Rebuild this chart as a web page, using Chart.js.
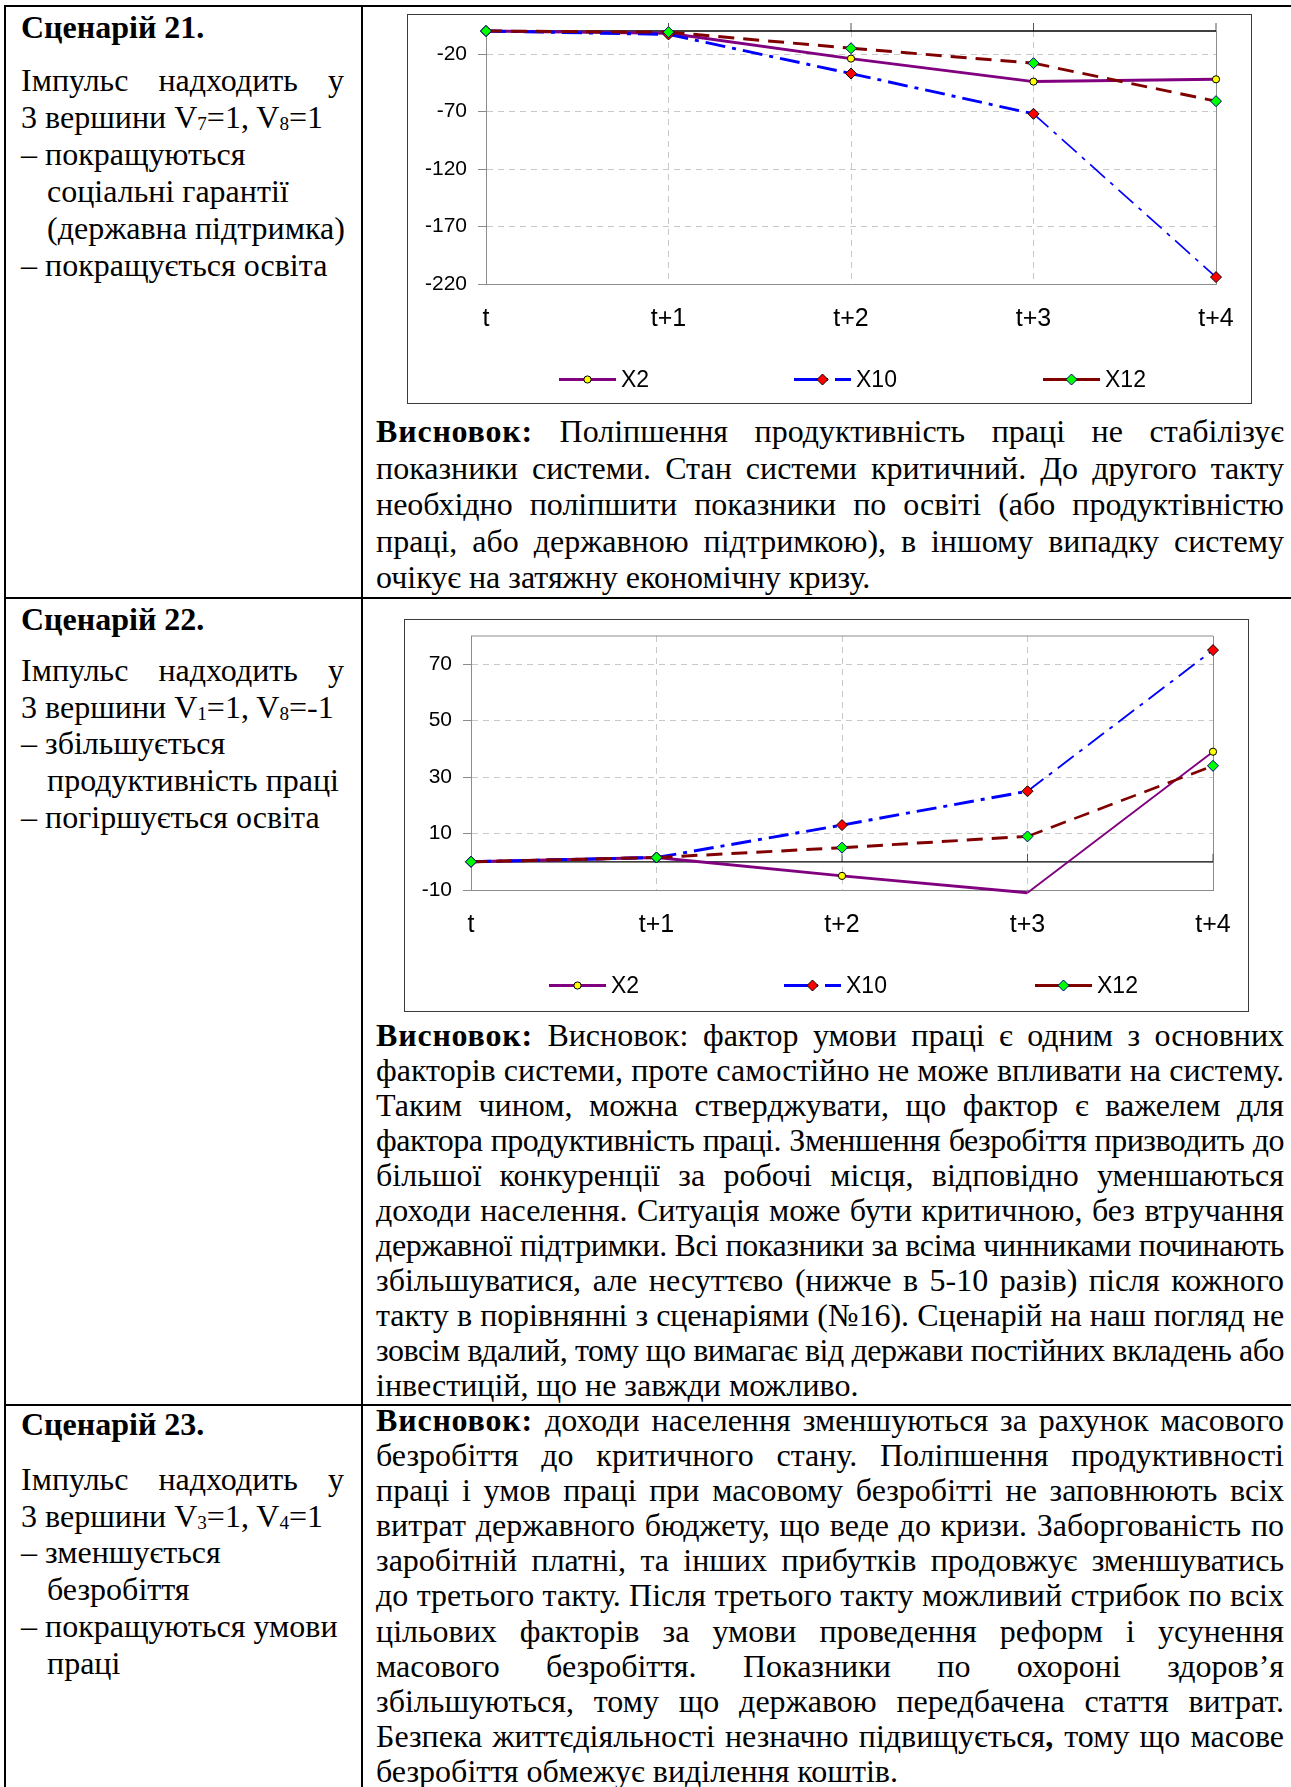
<!DOCTYPE html>
<html lang="uk">
<head>
<meta charset="utf-8">
<title>Сценарії 21–23</title>
<script src="https://cdn.jsdelivr.net/npm/chart.js@4.4.1/dist/chart.umd.min.js"></script>
<style>
  html, body { margin: 0; padding: 0; background: #fff; }
  body { position: relative; width: 1291px; height: 1787px; overflow: hidden;
         font-family: "Liberation Serif", "Times New Roman", serif; color: #000; }
  .rule { position: absolute; background: #000; }
  .txt { position: absolute; font-size: 32px; }
  .txt > div { white-space: nowrap; }
  .txt > div.j { white-space: normal; text-align: justify; text-align-last: justify; }
  .txt.note b { letter-spacing: 0.8px; }
  .ind { padding-left: 26px; }
  sub { font-size: 0.6em; vertical-align: -0.1em; line-height: 0; }
  .frame { position: absolute; box-sizing: border-box; border: 1px solid #3c3c3c; background: #fff; }
  .frame canvas { display: block; }
</style>
</head>
<body>

<!-- table rules -->
<div class="rule" style="left:4px;top:5px;width:1287px;height:2px"></div>
<div class="rule" style="left:4px;top:5px;width:2px;height:1782px"></div>
<div class="rule" style="left:361px;top:5px;width:2px;height:1782px"></div>
<div class="rule" style="left:4px;top:597px;width:1287px;height:2px"></div>
<div class="rule" style="left:4px;top:1404px;width:1287px;height:2px"></div>

<!-- сценарій 21 -->
<div class="txt" style="left:21px;top:9px;width:323px;line-height:37px"><div><b>Сценарій 21.</b></div></div>
<div class="txt" style="left:21px;top:62px;width:323px;line-height:37px">
  <div class="j">Імпульс надходить у</div>
  <div>3 вершини V<sub>7</sub>=1, V<sub>8</sub>=1</div>
  <div>– покращуються</div>
  <div class="ind">соціальні гарантії</div>
  <div class="ind">(державна підтримка)</div>
  <div>– покращується освіта</div>
</div>
<div class="frame" style="left:407px;top:14px;width:845px;height:390px"><canvas id="chart21" width="843" height="388"></canvas></div>
<div class="txt note" style="left:376px;top:413px;width:908px;line-height:36.5px">
  <div class="j"><b>Висновок:</b> Поліпшення продуктивність праці не стабілізує</div>
  <div class="j">показники системи. Стан системи критичний. До другого такту</div>
  <div class="j">необхідно поліпшити показники по освіті (або продуктівністю</div>
  <div class="j">праці, або державною підтримкою), в іншому випадку систему</div>
  <div>очікує на затяжну економічну кризу.</div>
</div>

<!-- сценарій 22 -->
<div class="txt" style="left:21px;top:601px;width:323px;line-height:36.7px"><div><b>Сценарій 22.</b></div></div>
<div class="txt" style="left:21px;top:652px;width:323px;line-height:36.7px">
  <div class="j">Імпульс надходить у</div>
  <div>3 вершини V<sub>1</sub>=1, V<sub>8</sub>=-1</div>
  <div>– збільшується</div>
  <div class="ind">продуктивність праці</div>
  <div>– погіршується освіта</div>
</div>
<div class="frame" style="left:404px;top:619px;width:845px;height:393px"><canvas id="chart22" width="843" height="391"></canvas></div>
<div class="txt note" style="left:376px;top:1018px;width:908px;line-height:35px">
  <div class="j"><b>Висновок:</b> Висновок: фактор умови праці є одним з основних</div>
  <div class="j">факторів системи, проте самостійно не може впливати на систему.</div>
  <div class="j">Таким чином, можна стверджувати, що фактор є важелем для</div>
  <div class="j">фактора продуктивність праці. Зменшення безробіття призводить до</div>
  <div class="j">більшої конкуренції за робочі місця, відповідно уменшаються</div>
  <div class="j">доходи населення. Ситуація може бути критичною, без втручання</div>
  <div class="j">державної підтримки. Всі показники за всіма чинниками починають</div>
  <div class="j">збільшуватися, але несуттєво (нижче в 5-10 разів) після кожного</div>
  <div class="j">такту в порівнянні з сценаріями (№16). Сценарій на наш погляд не</div>
  <div class="j">зовсім вдалий, тому що вимагає від держави постійних вкладень або</div>
  <div>інвестицій, що не завжди можливо.</div>
</div>

<!-- сценарій 23 -->
<div class="txt" style="left:21px;top:1406px;width:323px;line-height:36.7px"><div><b>Сценарій 23.</b></div></div>
<div class="txt" style="left:21px;top:1461px;width:323px;line-height:36.7px">
  <div class="j">Імпульс надходить у</div>
  <div>3 вершини V<sub>3</sub>=1, V<sub>4</sub>=1</div>
  <div>– зменшується</div>
  <div class="ind">безробіття</div>
  <div>– покращуються умови</div>
  <div class="ind">праці</div>
</div>
<div class="txt note" style="left:376px;top:1403px;width:908px;line-height:35.1px">
  <div class="j"><b>Висновок:</b> доходи населення зменшуються за рахунок масового</div>
  <div class="j">безробіття до критичного стану. Поліпшення продуктивності</div>
  <div class="j">праці і умов праці при масовому безробітті не заповнюють всіх</div>
  <div class="j">витрат державного бюджету, що веде до кризи. Заборгованість по</div>
  <div class="j">заробітній платні, та інших прибутків продовжує зменшуватись</div>
  <div class="j">до третього такту. Після третього такту можливий стрибок по всіх</div>
  <div class="j">цільових факторів за умови проведення реформ і усунення</div>
  <div class="j">масового безробіття. Показники по охороні здоров’я</div>
  <div class="j">збільшуються, тому що державою передбачена стаття витрат.</div>
  <div class="j">Безпека життєдіяльності незначно підвищується<b>,</b> тому що масове</div>
  <div>безробіття обмежує виділення коштів.</div>
</div>

<script>
// keep every justified line on one row: tighten letters if it would wrap
document.querySelectorAll(".txt > div.j").forEach(line => {
  const lh = parseFloat(getComputedStyle(line).lineHeight);
  let ls = 0;
  while (line.getBoundingClientRect().height > lh * 1.5 && ls > -2) {
    ls -= 0.1;
    line.style.letterSpacing = ls.toFixed(1) + "px";
  }
});

const periods = ["t", "t+1", "t+2", "t+3", "t+4"];
const seriesNames = ["X2", "X10", "X12"];

// сценарій 21
const s21X2 = [0, -2, -24, -44, -42];
const s21X10 = [0, -3, -37, -72, -214];
const s21X12 = [0, -1, -15, -28, -61];
const s21Ticks = [-220, -170, -120, -70, -20];

// сценарій 22
const s22X2 = [0, 1.5, -5, -11, 39];
const s22X10 = [0, 1.5, 13, 25, 75];
const s22X12 = [0, 1.5, 5, 9, 34];
const s22Ticks = [-10, 10, 30, 50, 70];

const seriesStyles = [
  { color: "#800080", dash: [], keyDash: [], marker: "circle", radius: 3.6, fill: "#ffff00", edge: "#000000" },
  { color: "#0000ff", dash: [20, 7, 4, 7], keyDash: [34, 7, 30], marker: "rectRot", radius: 5.5, fill: "#ff0000", edge: "#000000" },
  { color: "#800000", dash: [16, 9], keyDash: [], marker: "rectRot", radius: 5.5, fill: "#00ff00", edge: "#000080" },
];

const sansFamily = "'Liberation Sans', Arial, sans-serif";
const gridGray = "#c8c8c8";
const axisGray = "#8c8c8c";
const lineWidth = 3;

// steep segments come out thinner, flat ones keep the full width
function segmentWidth(ctx) {
  const dx = Math.abs(ctx.p1.x - ctx.p0.x) || 1;
  const dy = Math.abs(ctx.p1.y - ctx.p0.y);
  const cos2 = (dx * dx) / (dx * dx + dy * dy);
  return Math.max(1.6, lineWidth * cos2);
}

// black line at zero with small upward ticks, optional top edge of the plot
const axisExtras = {
  id: "axisExtras",
  beforeDatasetsDraw(chart, args, opts) {
    const { ctx, chartArea: a, scales: { x, y } } = chart;
    const y0 = y.getPixelForValue(0);
    ctx.save();
    if (opts.topBorder) {
      ctx.strokeStyle = axisGray;
      ctx.lineWidth = 1;
      ctx.beginPath();
      ctx.moveTo(a.left, a.top);
      ctx.lineTo(a.right, a.top);
      ctx.stroke();
    }
    ctx.strokeStyle = "#555";
    ctx.lineWidth = 1;
    periods.forEach((p, i) => {
      if (!i) return;
      const px = x.getPixelForValue(i);
      ctx.beginPath();
      ctx.moveTo(px, y0 - 8);
      ctx.lineTo(px, y0);
      ctx.stroke();
    });
    ctx.strokeStyle = "#000";
    ctx.lineWidth = 1.3;
    ctx.beginPath();
    ctx.moveTo(a.left, y0);
    ctx.lineTo(a.right, y0);
    ctx.stroke();
    ctx.restore();
  }
};

// legend under the axis: line sample with marker, then the name
const seriesKey = {
  id: "seriesKey",
  afterDraw(chart, args, opts) {
    const { ctx, chartArea: a } = chart;
    const y = a.bottom + opts.offsetY;
    chart.data.datasets.forEach((ds, i) => {
      const st = seriesStyles[i];
      const x0 = a.left + opts.offsets[i];
      ctx.save();
      ctx.strokeStyle = st.color;
      ctx.lineWidth = lineWidth;
      ctx.setLineDash(st.keyDash);
      ctx.beginPath();
      ctx.moveTo(x0, y);
      ctx.lineTo(x0 + 57, y);
      ctx.stroke();
      ctx.setLineDash([]);
      ctx.fillStyle = st.fill;
      ctx.strokeStyle = st.edge;
      ctx.lineWidth = 1;
      Chart.helpers.drawPoint(ctx, { pointStyle: st.marker, radius: st.radius, borderWidth: 1, rotation: 0 }, x0 + 28.5, y);
      ctx.fillStyle = "#000";
      ctx.font = "23px " + sansFamily;
      ctx.textBaseline = "middle";
      ctx.textAlign = "left";
      ctx.fillText(ds.label, x0 + 62, y + 1);
      ctx.restore();
    });
  }
};

function makeChart(id, seriesValues, tickValues, yMin, yMax, axisWidth, xAxisHeight, topBorder, keyOffsets) {
  const last = periods.length - 1;
  const datasets = seriesValues.map((vals, i) => {
    const st = seriesStyles[i];
    return {
      label: seriesNames[i],
      data: vals,
      order: seriesValues.length - i,
      borderColor: st.color,
      borderWidth: lineWidth,
      borderDash: st.dash,
      segment: { borderWidth: segmentWidth },
      tension: 0,
      clip: false,
      pointStyle: st.marker,
      pointRadius: ctx => (ctx.parsed && (ctx.parsed.y < yMin || ctx.parsed.y > yMax)) ? 0 : st.radius,
      pointHoverRadius: st.radius,
      pointBackgroundColor: st.fill,
      pointBorderColor: st.edge,
      pointBorderWidth: 1,
    };
  });

  return new Chart(document.getElementById(id), {
    type: "line",
    data: { labels: periods, datasets },
    options: {
      responsive: false,
      animation: false,
      events: [],
      layout: { padding: { left: 0, top: 16, right: 35, bottom: 0 } },
      plugins: {
        legend: { display: false },
        tooltip: { enabled: false },
        axisExtras: { topBorder },
        seriesKey: { offsetY: 95.5, offsets: keyOffsets },
      },
      scales: {
        x: {
          grid: {
            color: ctx => ctx.index === last ? axisGray : gridGray,
            drawTicks: false,
          },
          border: {
            color: axisGray,
            dash: ctx => (ctx.index === undefined || ctx.index === last) ? [] : [6, 5],
          },
          ticks: { color: "#000", font: { family: sansFamily, size: 25 }, padding: 20, maxRotation: 0, autoSkip: false },
          afterFit: s => { s.height = xAxisHeight; s.paddingLeft = 0; s.paddingRight = 0; },
        },
        y: {
          min: yMin,
          max: yMax,
          afterBuildTicks: s => { s.ticks = tickValues.map(v => ({ value: v })); },
          grid: { color: gridGray, tickColor: axisGray, tickLength: 8 },
          border: {
            color: axisGray,
            dash: ctx => (ctx.index === undefined || ctx.index === 0) ? [] : [6, 5],
          },
          ticks: { color: "#000", font: { family: sansFamily, size: 21 }, padding: 11 },
          afterFit: s => { s.width = axisWidth; s.paddingTop = 0; s.paddingBottom = 0; },
        },
      },
    },
    plugins: [axisExtras, seriesKey],
  });
}

makeChart("chart21", [s21X2, s21X10, s21X12], s21Ticks, -220, 0, 78, 119, false, [73, 308, 557]);
makeChart("chart22", [s22X2, s22X10, s22X12], s22Ticks, -10, 80, 66, 121, true, [78, 313, 564]);
</script>
</body>
</html>
